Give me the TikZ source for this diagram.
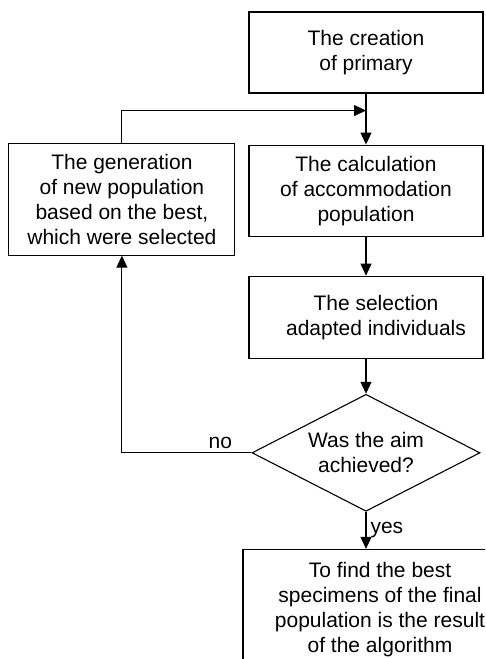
\documentclass[tikz,border=0pt]{standalone}
\usepackage{fontspec}
\setmainfont{Liberation Sans}
\usetikzlibrary{arrows.meta,shapes,positioning,calc}

\begin{document}
\begin{tikzpicture}[
    x=1pt, y=1pt,
    >={Triangle[length=12pt,width=11pt]},
    node distance=40pt and 13pt,
    stage/.style={draw, rectangle, line width=1.1pt,
        minimum width=234pt, minimum height=82pt,
        inner sep=2pt, align=center,
        font=\fontsize{21}{25}\selectfont},
    check/.style={draw, diamond, line width=1.1pt, aspect=2,
        minimum width=228pt, minimum height=117pt,
        inner sep=0pt, align=center,
        font=\fontsize{21}{25}\selectfont},
    brlbl/.style={font=\fontsize{21}{25}\selectfont, inner sep=4pt},
    flow/.style={->, line width=1.1pt}
]
\useasboundingbox (0,0) rectangle (485,-659);
\clip (0,0) rectangle (485,-659);
\node[stage, minimum height=81pt] (C1) at (366,-52.5) {The creation \\ of primary};
\node[stage, below=51pt of C1, minimum height=91pt] (C2) {The calculation \\ of accommodation \\ population};
\node[stage, below=39pt of C2] (S3) {\hspace*{20pt}The selection \\ \hspace*{20pt}adapted individuals};
\node[check, below=35pt of S3] (A4) {Was the aim \\ achieved?};
\node[stage, left=13pt of C2, yshift=-8.5pt, minimum width=226pt, minimum height=112pt] (G5)
    {The generation \\ of new population \\ based on the best, \\ which were selected};
\node[stage, below=37pt of A4, xshift=14pt, minimum width=274pt, minimum height=120pt] (R6)
    {To find the best \\ specimens of the final \\ population is the result \\ of the algorithm};
\coordinate (J1) at ($(C1.south)+(0,-17)$);
\draw[line width=1.1pt] (C1) -- (J1);
\draw[flow] (J1) -- (C2);
\draw[flow] (C2) -- (S3);
\draw[flow] (S3) -- (A4);
\draw[flow] (A4.south) -- node[brlbl, right] (Y8) {yes} (A4.south |- R6.north);
\draw[flow] (A4.west) -| node[brlbl, above, pos=0.12] (N7) {no} (G5.south);
\draw[flow] (G5.north) |- (J1);
\end{tikzpicture}
\end{document}
